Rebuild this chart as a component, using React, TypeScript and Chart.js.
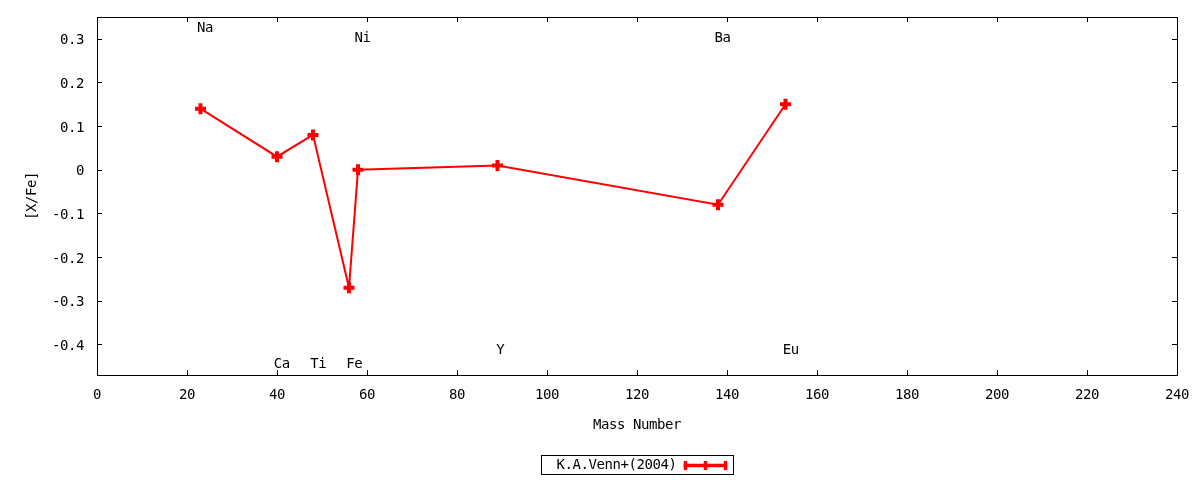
import { useEffect, useRef } from "react"
import { Chart, registerables } from "chart.js"

Chart.register(...registerables)

// Abundance ratios [X/Fe] against mass number
const elements = ["Na", "Ca", "Ti", "Fe", "Ni", "Y", "Ba", "Eu"]
const massNumbers = [23, 40, 48, 56, 58, 89, 138, 153]
const xFe = [0.14, 0.03, 0.08, -0.27, 0, 0.01, -0.08, 0.15]

// Element name labels placed on the plot (data coordinates)
const labelX = [22.2, 39.3, 47.4, 55.4, 57.2, 88.7, 137.2, 152.4]
const labelY = [0.323, -0.445, -0.445, -0.445, 0.3, -0.413, 0.3, -0.413]

const seriesLabel = "K.A.Venn+(2004)"
const FONT = "DejaVu Sans Mono"
const SPACING = "-0.43px"

// gnuplot's png terminal rounds glyph advances, so tighten the text a little
const spacingPlugin = {
  id: "spacing",
  beforeDraw(chart: Chart) {
    ;(chart.ctx as any).letterSpacing = SPACING
  },
}

// Inward ticks on all four sides + plot frame, labels and key
const framePlugin = {
  id: "frame",
  afterDraw(chart: Chart) {
    const { ctx, chartArea: a } = chart
    const xs = chart.scales.x
    const ys = chart.scales.y
    ctx.save()
    ;(ctx as any).letterSpacing = SPACING
    ctx.strokeStyle = "#000"
    ctx.lineWidth = 1
    ctx.beginPath()
    xs.ticks.forEach((t) => {
      const px = Math.round(xs.getPixelForValue(t.value)) + 0.5
      ctx.moveTo(px, a.bottom)
      ctx.lineTo(px, a.bottom - 5)
      ctx.moveTo(px, a.top)
      ctx.lineTo(px, a.top + 5)
    })
    ys.ticks.forEach((t) => {
      const py = Math.round(ys.getPixelForValue(t.value)) + 0.5
      ctx.moveTo(a.left, py)
      ctx.lineTo(a.left + 5, py)
      ctx.moveTo(a.right, py)
      ctx.lineTo(a.right - 5, py)
    })
    ctx.stroke()
    ctx.strokeRect(Math.round(a.left) + 0.5, Math.round(a.top) + 0.5, Math.round(a.right - a.left), Math.round(a.bottom - a.top))

    // element labels
    ctx.fillStyle = "#000"
    ctx.font = `14px "${FONT}"`
    ctx.textAlign = "left"
    ctx.textBaseline = "middle"
    elements.forEach((name, i) => {
      ctx.fillText(name, xs.getPixelForValue(labelX[i]), ys.getPixelForValue(labelY[i]))
    })

    // gnuplot style key box
    const text = chart.data.datasets[0].label || ""
    const tw = ctx.measureText(text).width
    const boxW = 15 + tw + 7 + 44 + 6
    const cx = (a.left + a.right) / 2
    const bx = Math.round(cx - boxW / 2) + 0.5
    const by = 455.5
    ctx.strokeRect(bx, by, Math.round(boxW), 19)
    ctx.fillText(text, bx + 15, by + 10)
    const sx0 = bx + 15 + tw + 7
    const sx1 = sx0 + 44
    const sy = by + 10
    ctx.strokeStyle = "#ff0000"
    ctx.lineWidth = 3.5
    ctx.beginPath()
    ctx.moveTo(sx0, sy)
    ctx.lineTo(sx1, sy)
    ;[sx0 + 2, (sx0 + sx1) / 2, sx1 - 2].forEach((mx) => {
      ctx.moveTo(mx, sy - 4.5)
      ctx.lineTo(mx, sy + 4.5)
    })
    ctx.stroke()
    ctx.restore()
  },
}

export default function App() {
  const chartRef = useRef<HTMLCanvasElement>(null)
  const chartInstance = useRef<Chart | null>(null)

  useEffect(() => {
    if (!chartRef.current) return
    document.body.style.margin = "0"

    if (chartInstance.current) {
      chartInstance.current.destroy()
    }

    const ctx = chartRef.current.getContext("2d")
    if (!ctx) return

    Chart.defaults.font.family = FONT
    Chart.defaults.font.size = 14
    Chart.defaults.color = "#000"

    chartInstance.current = new Chart(ctx, {
      type: "line",
      data: {
        datasets: [
          {
            label: seriesLabel,
            data: massNumbers.map((m, i) => ({ x: m, y: xFe[i] })),
            borderColor: "#ff0000",
            backgroundColor: "#ff0000",
            borderWidth: 2,
            pointStyle: "cross",
            pointRadius: 5.5,
            pointBorderWidth: 4,
            pointBorderColor: "#ff0000",
            tension: 0,
            fill: false,
          },
        ],
      },
      options: {
        animation: false,
        responsive: false,
        layout: {
          padding: { top: 17, right: 23, left: 0, bottom: 44 },
        },
        plugins: {
          legend: { display: false },
          tooltip: { enabled: false },
        },
        scales: {
          x: {
            type: "linear",
            min: 0,
            max: 240,
            grid: { display: false, drawTicks: false },
            border: { display: false },
            ticks: { stepSize: 20, padding: 12, maxRotation: 0 },
            title: { display: true, text: "Mass Number", padding: { top: 0, bottom: 2 } },
            afterFit: (scale: any) => {
              scale.height = 61
              scale.paddingLeft = 0
              scale.paddingRight = 0
            },
          },
          y: {
            type: "linear",
            min: -0.47,
            max: 0.35,
            grid: { display: false, drawTicks: false },
            border: { display: false },
            ticks: {
              stepSize: 0.1,
              padding: 13,
              labelOffset: 2,
              includeBounds: false,
              callback: (v) => {
                const n = Number(v)
                return Math.abs(n) < 1e-9 ? "0" : n.toFixed(1)
              },
            },
            title: { display: true, text: "[X/Fe]", padding: { top: 24, bottom: 0 } },
            afterFit: (scale: any) => {
              scale.width = 97
              scale.paddingTop = 0
              scale.paddingBottom = 0
            },
          },
        },
      },
      plugins: [spacingPlugin, framePlugin],
    })

    return () => {
      if (chartInstance.current) {
        chartInstance.current.destroy()
        chartInstance.current = null
      }
    }
  }, [])

  return (
    <div style={{ width: 1200, height: 480 }}>
      <canvas ref={chartRef} width={1200} height={480} />
    </div>
  )
}
